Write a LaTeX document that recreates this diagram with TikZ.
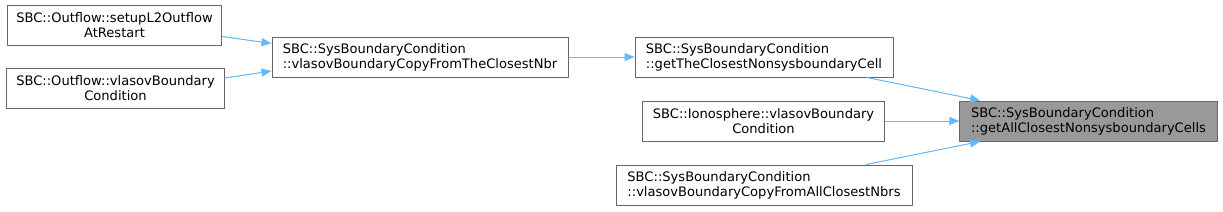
\documentclass[tikz,border=0pt]{standalone}
\usepackage{fontspec}
\setmainfont{DejaVu Sans}
\usetikzlibrary{positioning, arrows.meta, calc}
\definecolor{color_edge}{HTML}{63B8FF}
\definecolor{color_border}{HTML}{666666}
\definecolor{color_target}{HTML}{999999}

\begin{document}
\begin{tikzpicture}[
    x=0.75pt, y=-0.75pt,
    font=\fontsize{9.8}{11.4}\selectfont,
    fnbox/.style={draw=color_border, line width=0.75pt, fill=white, inner sep=2pt,
        minimum height=30pt, align=#1},
    fnbox/.default=center,
    target/.style={fnbox=left, fill=color_target},
    edge/.style={-{Triangle[length=7.5pt, width=6pt]}, draw=color_edge, fill=color_edge, line width=0.75pt}
]
\useasboundingbox (0,0) rectangle (1223,211);

%% ============================================================
%% COLUMN 1: OUTFLOW CALLERS
%% ============================================================
\node[fnbox, minimum width=161pt] (setupL2) at (114.5, 25.5) {SBC::Outflow::setupL2Outflow\\AtRestart};
\node[fnbox, minimum width=163pt] (outflowVlasov) at (115.5, 88.5) {SBC::Outflow::vlasovBoundary\\Condition};

%% ============================================================
%% COLUMN 2: COPY FROM THE CLOSEST NEIGHBOUR
%% ============================================================
\node[fnbox=left, minimum width=222pt] (copyTheClosest) at (420, 57) {SBC::SysBoundaryCondition\\::vlasovBoundaryCopyFromTheClosestNbr};

%% ============================================================
%% COLUMN 3: DIRECT CALLERS
%% ============================================================
\node[fnbox=left, minimum width=193.5pt] (getTheClosest) at (764, 57) {SBC::SysBoundaryCondition\\::getTheClosestNonsysboundaryCell};
\node[fnbox, minimum width=181pt] (ionoVlasov) at (763.5, 121) {SBC::Ionosphere::vlasovBoundary\\Condition};
\node[fnbox=left, minimum width=222pt] (copyAllClosest) at (764, 185) {SBC::SysBoundaryCondition\\::vlasovBoundaryCopyFromAllClosestNbrs};

%% ============================================================
%% TARGET
%% ============================================================
\node[target, minimum width=193pt] (getAllClosest) at (1088.5, 121) {SBC::SysBoundaryCondition\\::getAllClosestNonsysboundaryCells};

%% --- Edges ---
\draw[edge] ($(setupL2.east)+(0,11)$) -- ($(copyTheClosest.west)+(0,-13.5)$);
\draw[edge] ($(outflowVlasov.east)+(0,-10.5)$) -- ($(copyTheClosest.west)+(0,14)$);
\draw[edge] (copyTheClosest.east) -- (getTheClosest.west);
\draw[edge] ($(getTheClosest.south)+(103,0)$) -- ($(getAllClosest.north)+(-108.5,0)$);
\draw[edge] (ionoVlasov.east) -- (getAllClosest.west);
\draw[edge] ($(copyAllClosest.north)+(102,0)$) -- ($(getAllClosest.south)+(-108.5,0)$);

\end{tikzpicture}
\end{document}
